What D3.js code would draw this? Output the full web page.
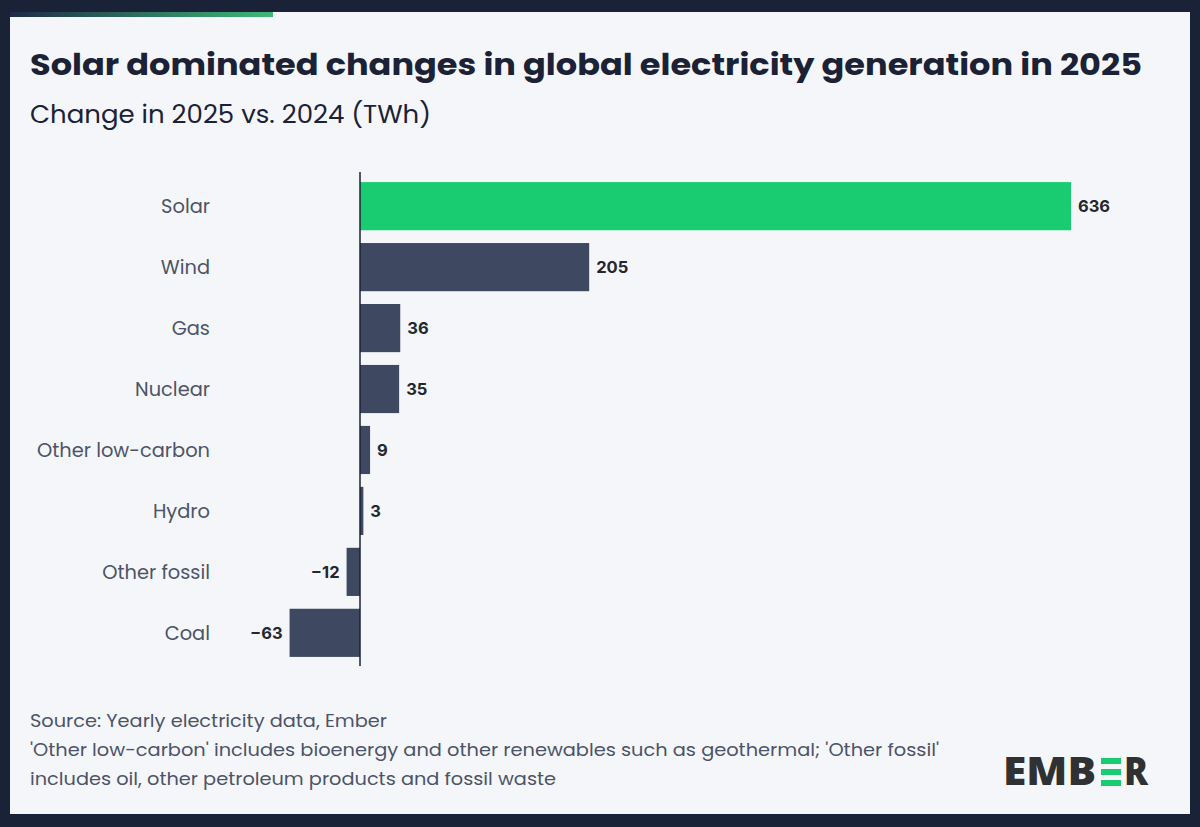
<!DOCTYPE html>
<html>
<head>
<meta charset="utf-8">
<script src="https://cdn.jsdelivr.net/npm/d3@7"></script>
<style>
  body { margin: 0; background: #1a2238; }
  svg { display: block; }
</style>
</head>
<body>
<svg id="chart" width="1200" height="827"></svg>
<script>
// data (TWh change, 2025 vs 2024)
var categories = ["Solar", "Wind", "Gas", "Nuclear", "Other low-carbon", "Hydro", "Other fossil", "Coal"];
var values = [636, 205, 36, 35, 9, 3, -12, -63];
var highlight = ["Solar"];

var font = "Poppins, Inter, 'Noto Sans', sans-serif";
var svg = d3.select("#chart");

// panel
svg.append("rect").attr("x", 0).attr("y", 0).attr("width", 1200).attr("height", 827).attr("fill", "#1a2238");
svg.append("rect").attr("x", 10).attr("y", 12).attr("width", 1180).attr("height", 802).attr("fill", "#f5f6fa");

var grad = svg.append("defs").append("linearGradient").attr("id", "topbar");
grad.append("stop").attr("offset", "0%").attr("stop-color", "#1d2a48");
grad.append("stop").attr("offset", "100%").attr("stop-color", "#3fb877");
svg.append("rect").attr("x", 10).attr("y", 12).attr("width", 263).attr("height", 5).attr("fill", "url(#topbar)");

// titles
svg.append("text").attr("x", 30).attr("y", 75)
    .attr("font-family", font).attr("font-weight", 700).attr("font-size", 30)
    .attr("fill", "#1b2236")
    .attr("textLength", 1112).attr("lengthAdjust", "spacingAndGlyphs")
    .text("Solar dominated changes in global electricity generation in 2025");
svg.append("text").attr("x", 30).attr("y", 123)
    .attr("font-family", font).attr("font-size", 24)
    .attr("fill", "#1b2236")
    .attr("textLength", 401).attr("lengthAdjust", "spacingAndGlyphs")
    .text("Change in 2025 vs. 2024 (TWh)");

// scales
var x = d3.scaleLinear().domain([0, 636]).range([360, 1071]);
var y = d3.scaleBand().domain(categories).range([176, 663]).paddingInner(0.21).paddingOuter(0.1);

var g = svg.append("g");

g.selectAll("rect.bar").data(categories).join("rect")
    .attr("class", "bar")
    .attr("x", function (d, i) { return x(Math.min(0, values[i])); })
    .attr("width", function (d, i) { return Math.abs(x(values[i]) - x(0)); })
    .attr("y", function (d) { return y(d); })
    .attr("height", y.bandwidth())
    .attr("fill", function (d) { return highlight.indexOf(d) >= 0 ? "#19cc72" : "#3e4861"; });

// category labels
g.selectAll("text.cat").data(categories).join("text")
    .attr("class", "cat")
    .attr("x", 210)
    .attr("y", function (d) { return y(d) + y.bandwidth() / 2; })
    .attr("dy", "0.35em")
    .attr("text-anchor", "end")
    .attr("font-family", font).attr("font-size", 19.4)
    .attr("fill", "#4b5468")
    .text(function (d) { return d; });

// value labels
g.selectAll("text.val").data(categories).join("text")
    .attr("class", "val")
    .attr("x", function (d, i) { return values[i] >= 0 ? x(values[i]) + 7 : x(values[i]) - 7; })
    .attr("y", function (d) { return y(d) + y.bandwidth() / 2; })
    .attr("dy", "0.36em")
    .attr("text-anchor", "end")
    .attr("text-anchor", function (d, i) { return values[i] >= 0 ? "start" : "end"; })
    .attr("font-family", "Inter, 'Noto Sans', sans-serif").attr("font-weight", 700).attr("font-size", 16.5)
    .attr("fill", "#23272e")
    .text(function (d, i) { return values[i] < 0 ? "\u2212" + Math.abs(values[i]) : values[i]; });

// zero line
g.append("line")
    .attr("x1", x(0)).attr("x2", x(0))
    .attr("y1", 172).attr("y2", 666)
    .attr("stroke", "#1b2236").attr("stroke-width", 1.5);

// footer
var notes = [
    "Source: Yearly electricity data, Ember",
    "'Other low-carbon' includes bioenergy and other renewables such as geothermal; 'Other fossil'",
    "includes oil, other petroleum products and fossil waste"
];
var noteLen = [357, 909, 526];
svg.selectAll("text.note").data(notes).join("text")
    .attr("class", "note")
    .attr("x", 30)
    .attr("y", function (d, i) { return 727 + i * 29; })
    .attr("font-family", font).attr("font-size", 17)
    .attr("fill", "#4b5468")
    .attr("textLength", function (d, i) { return noteLen[i]; })
    .attr("lengthAdjust", "spacingAndGlyphs")
    .text(function (d) { return d; });

// logo
var logo = svg.append("g").attr("transform", "translate(1003,785)");
logo.append("text").attr("x", 0).attr("y", 0)
    .attr("font-family", "'Open Sans', sans-serif").attr("font-weight", 800).attr("font-size", 38)
    .attr("fill", "#2f3133")
    .attr("textLength", 93).attr("lengthAdjust", "spacingAndGlyphs")
    .text("EMB");
[0, 1, 2].forEach(function (k) {
    logo.append("rect").attr("x", 98).attr("y", -27 + k * 11).attr("width", 20).attr("height", 6)
        .attr("fill", "#19cc72");
});
logo.append("text").attr("x", 121).attr("y", 0)
    .attr("font-family", "'Open Sans', sans-serif").attr("font-weight", 800).attr("font-size", 38)
    .attr("fill", "#2f3133")
    .attr("textLength", 24).attr("lengthAdjust", "spacingAndGlyphs")
    .text("R");
</script>
</body>
</html>
